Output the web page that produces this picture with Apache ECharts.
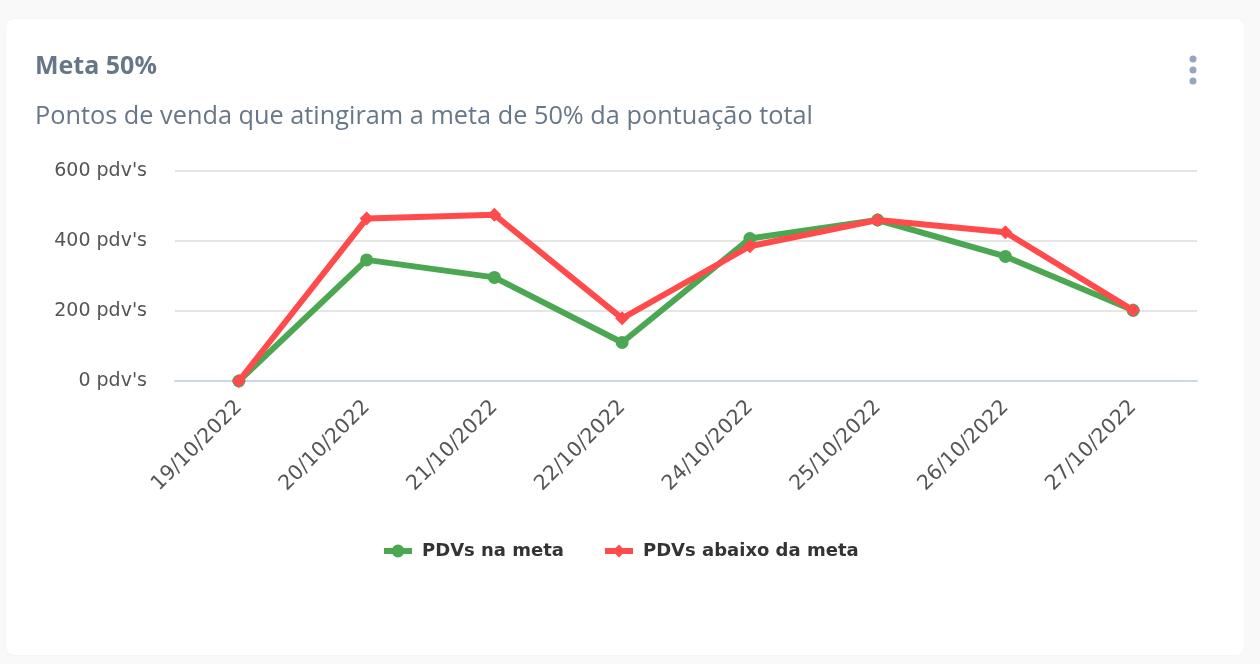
<!DOCTYPE html>
<html>
	<head>
		<meta charset="UTF-8">
		<title>Meta 50%</title>
		<script src="https://cdn.jsdelivr.net/npm/echarts@6/dist/echarts.min.js"></script>
		<style type="text/css">
			html, body {
				margin: 0;
				padding: 0;
				background: #f9f9f9;
				width: 1260px;
				height: 664px;
				overflow: hidden;
			}
			#card {
				position: absolute;
				left: 6px;
				top: 19px;
				width: 1238px;
				height: 636px;
				background: #fff;
				border-radius: 8px;
				box-shadow: 0 0 2px rgba(0, 0, 0, 0.06);
			}
			#chart {
				position: absolute;
				left: 0;
				top: 0;
				width: 1260px;
				height: 664px;
			}
		</style>
	</head>
	<body>
		<div id="card"></div>
		<div id="chart"></div>
		<script type="text/javascript">
			// datas
			var datas = ["19/10/2022", "20/10/2022", "21/10/2022", "22/10/2022", "24/10/2022", "25/10/2022", "26/10/2022", "27/10/2022"];
			var naMeta = [0, 346, 296, 110, 407, 460, 356, 202];
			var abaixoMeta = [0, 464, 475, 179, 385, 460, 425, 202];
			var yTicks = [0, 200, 400, 600];

			var chart = echarts.init(document.getElementById("chart"));
			chart.setOption({
				textStyle: { fontFamily: "DejaVu Sans" },
				title: {
					text: "Meta 50%",
					subtext: "Pontos de venda que atingiram a meta de 50% da pontuação total",
					left: 35,
					top: 54,
					padding: 0,
					itemGap: 25,
					textStyle: { fontSize: 25, fontWeight: "bold", color: "#677788", fontFamily: "Open Sans" },
					subtextStyle: { fontSize: 25.3, color: "#677788", fontFamily: "Open Sans" }
				},
				graphic: [
					{ type: "circle", shape: { cx: 1193, cy: 59, r: 3.5 }, style: { fill: "#97a6bf" } },
					{ type: "circle", shape: { cx: 1193, cy: 70, r: 3.5 }, style: { fill: "#97a6bf" } },
					{ type: "circle", shape: { cx: 1193, cy: 81, r: 3.5 }, style: { fill: "#97a6bf" } }
				],
				legend: {
					data: ["PDVs na meta", "PDVs abaixo da meta"],
					top: 537,
					left: 376,
					itemWidth: 28,
					itemHeight: 16,
					itemGap: 38,
					lineStyle: { width: 6 },
					textStyle: { fontSize: 18, fontWeight: "bold", color: "#333333", fontFamily: "DejaVu Sans", padding: [0, 0, 0, 5] }
				},
				grid: {
					left: 175,
					right: 63,
					top: 171,
					bottom: 283
				},
				xAxis: {
					type: "category",
					data: datas,
					boundaryGap: true,
					axisLine: { lineStyle: { color: "#ccd6eb", width: 2 } },
					axisTick: { show: false },
					axisLabel: { rotate: 45, fontSize: 20.5, color: "#555555", margin: 23 }
				},
				yAxis: {
					type: "value",
					min: yTicks[0],
					max: yTicks[yTicks.length - 1],
					interval: 200,
					axisLine: { show: false },
					axisTick: { show: false },
					splitLine: { lineStyle: { color: "#dcdcdc", width: 1.5 } },
					axisLabel: {
						fontSize: 19,
						color: "#555555",
						margin: 28,
						formatter: function(v) {
							return v + " pdv's";
						}
					}
				},
				series: [{
					name: "PDVs na meta",
					type: "line",
					data: naMeta,
					symbol: "circle",
					symbolSize: 13,
					color: "#4ba752",
					lineStyle: { width: 6 },
					z: 2
				}, {
					name: "PDVs abaixo da meta",
					type: "line",
					data: abaixoMeta,
					symbol: "diamond",
					symbolSize: 14,
					color: "#ff4b4b",
					lineStyle: { width: 6 },
					z: 3
				}]
			});
		</script>
	</body>
</html>
